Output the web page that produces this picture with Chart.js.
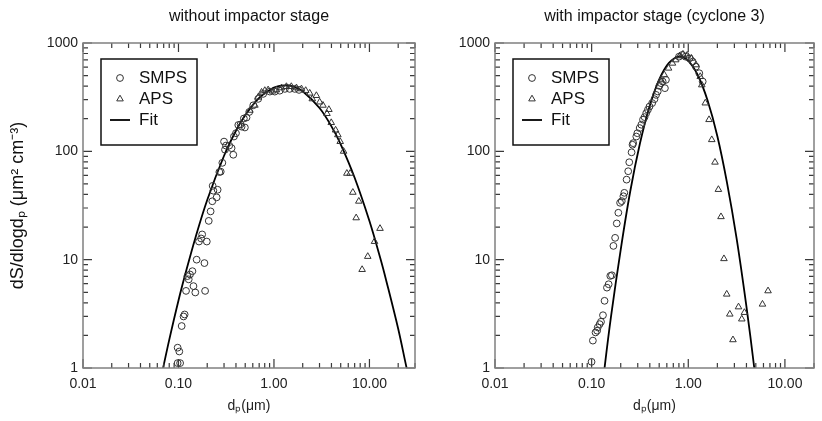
<!DOCTYPE html>
<html><head><meta charset="utf-8">
<script src="https://cdn.jsdelivr.net/npm/chart.js@4.4.1/dist/chart.umd.min.js"></script>
<style>
html,body{margin:0;padding:0;background:#fff;width:822px;height:421px;overflow:hidden}
canvas{position:absolute;top:0}
#c1{left:0}
#c2{left:430px}
</style></head><body>
<canvas id="c1" width="430" height="421"></canvas>
<canvas id="c2" width="392" height="421"></canvas>
<script>
const panelTitles = ['without impactor stage', 'with impactor stage (cyclone 3)'];
const yAxisTitle = 'dS/dlogdₚ (μm² cm⁻³)';
const xAxisTitle = 'dₚ(μm)';
const legendLabels = ['SMPS', 'APS', 'Fit'];
const xTickValues = [0.01, 0.1, 1, 10];
const xTickLabels = ['0.01', '0.10', '1.00', '10.00'];
const yTickValues = [1, 10, 100, 1000];
const yTickLabels = ['1', '10', '100', '1000'];

// [dp (µm), dS/dlogdp]
const leftSmps = [[0.098,1.11],[0.104,1.11],[0.098,1.54],[0.102,1.42],[0.108,2.44],[0.113,2.99],[0.116,3.12],[0.120,5.15],[0.128,6.58],[0.132,7.3],[0.124,7.05],[0.140,7.83],[0.1435,5.7],[0.150,4.98],[0.190,5.15],[0.155,10.0],[0.187,9.3],[0.164,14.7],[0.1725,15.7],[0.177,17.1],[0.198,14.7],[0.2075,22.8],[0.217,27.9],[0.226,34.6],[0.251,37.6],[0.232,43.3],[0.257,44.2],[0.228,48],[0.268,64.4],[0.277,64.9],[0.288,78.3],[0.307,103.5],[0.300,123],[0.314,113],[0.340,113],[0.360,107],[0.375,93],[0.381,137],[0.400,147],[0.423,175],[0.447,177],[0.458,169],[0.496,166],[0.484,201],[0.516,205],[0.551,231],[0.607,266],[0.684,305],[0.771,339],[0.906,356],[1.02,356],[1.15,363],[1.30,377],[1.46,377],[1.65,377],[1.83,369]];
const leftAps = [[0.560,239],[0.631,266],[0.684,316],[0.741,351],[0.802,364],[0.869,369],[0.964,359],[1.06,369],[1.20,385],[1.35,396],[1.52,396],[1.72,385],[1.94,377],[2.15,364],[2.37,344],[2.52,305],[2.78,327],[3.01,285],[3.26,266],[3.76,243],[3.59,223],[3.98,184],[4.42,157],[4.67,142],[4.94,123],[5.36,100],[5.80,62.6],[6.28,62.6],[6.70,41.8],[7.74,34.6],[7.26,24.3],[12.9,19.4],[11.3,14.7],[9.6,10.7],[8.38,8.1]];
const leftFit = [[0.065,0.79],[0.069,1.0],[0.08,1.82],[0.1,4.2],[0.12,7.8],[0.15,15.8],[0.2,35.5],[0.3,91],[0.4,155],[0.5,215],[0.7,311],[1.0,388],[1.3,407],[1.6,396],[2,359],[3,251],[4,170],[5,116],[7,57],[10,22.7],[13,10.3],[15,6.4],[20,2.3],[24.5,1.0],[27,0.69]];

const rightSmps = [[0.0998,1.14],[0.103,1.79],[0.1097,2.13],[0.114,2.21],[0.1157,2.37],[0.121,2.54],[0.125,2.67],[0.131,3.07],[0.136,4.17],[0.144,5.52],[0.150,5.93],[0.156,7.08],[0.162,7.18],[0.168,13.4],[0.175,15.9],[0.182,21.6],[0.189,27.1],[0.197,33.5],[0.205,34.7],[0.213,38.5],[0.218,41.4],[0.230,54.8],[0.239,65.5],[0.245,79.3],[0.259,97.9],[0.265,115],[0.269,119],[0.290,137],[0.297,147],[0.314,164],[0.327,176],[0.340,196],[0.353,207],[0.367,225],[0.382,242],[0.397,259],[0.423,279],[0.447,303],[0.464,332],[0.483,357],[0.502,402],[0.522,426],[0.543,441],[0.573,383],[0.587,457],[0.802,748],[0.867,776],[0.937,748],[1.03,722],[1.11,673],[1.20,605],[1.30,526],[1.41,441]];
const rightAps = [[0.522,457],[0.565,508],[0.625,585],[0.686,650],[0.741,698],[0.814,760],[0.881,788],[0.975,771],[1.08,722],[1.20,628],[1.33,490],[1.38,410],[1.50,279],[1.64,196],[1.75,128],[1.89,79.3],[2.05,44.4],[2.18,24.9],[2.34,10.2],[2.50,4.80],[2.69,3.14],[3.31,3.66],[2.90,1.82],[3.58,2.83],[3.81,3.25],[5.86,3.88],[6.69,5.15]];
const rightFit = [[0.126,0.54],[0.136,1.0],[0.158,2.9],[0.2,12.4],[0.251,42.8],[0.316,118],[0.398,261],[0.501,462],[0.631,657],[0.811,750],[1.0,684],[1.26,501],[1.585,294],[2.0,138],[2.51,52],[3.16,15.8],[3.98,3.8],[4.82,1.0],[5.62,0.3]];

const xRanges = [[0.01, 30], [0.01, 20]];
const yRange = [1, 1000];

Chart.defaults.font.family = '"Liberation Sans", Arial, sans-serif';
Chart.defaults.color = '#1a1a1a';

const toPts = arr => arr.map(p => ({x: p[0], y: p[1]}));
const near = (a, b) => Math.abs(a - b) <= 1e-9 * Math.max(Math.abs(a), Math.abs(b));

function buildLogTicks(scale) {
  const lo = scale.min, hi = scale.max, ticks = [];
  for (let e = Math.floor(Math.log10(lo)) ; e <= Math.ceil(Math.log10(hi)); e++) {
    for (let m = 1; m <= 9; m++) {
      const v = m * Math.pow(10, e);
      if (v >= lo * 0.9999 && v <= hi * 1.0001) ticks.push({value: v, major: m === 1});
    }
  }
  scale.ticks = ticks;
}
function labelFor(vals, labs) {
  return v => { const i = vals.findIndex(t => near(t, v)); return i >= 0 ? labs[i] : ''; };
}

const decor = {
  id: 'decor',
  afterDatasetsDraw(chart) {
    const {ctx, chartArea: a, scales: {x, y}} = chart;
    ctx.save();
    // inward ticks on all four sides
    ctx.strokeStyle = '#3a3a3a'; ctx.lineWidth = 1.2; ctx.beginPath();
    x.ticks.forEach(t => {
      const p = x.getPixelForValue(t.value);
      const L = t.major ? 9 : 5;
      ctx.moveTo(p, a.bottom); ctx.lineTo(p, a.bottom - L);
      ctx.moveTo(p, a.top); ctx.lineTo(p, a.top + L);
    });
    y.ticks.forEach(t => {
      const p = y.getPixelForValue(t.value);
      const L = t.major ? 9 : 5;
      ctx.moveTo(a.left, p); ctx.lineTo(a.left + L, p);
      ctx.moveTo(a.right, p); ctx.lineTo(a.right - L, p);
    });
    ctx.stroke();
    // frame
    ctx.strokeStyle = '#808080'; ctx.lineWidth = 1.5;
    ctx.strokeRect(a.left, a.top, a.right - a.left, a.bottom - a.top);
    // legend box
    const bx = a.left + 18, by = a.top + 16;
    ctx.fillStyle = '#fff';
    ctx.fillRect(bx, by, 96, 86);
    ctx.strokeStyle = '#111'; ctx.lineWidth = 1.5;
    ctx.strokeRect(bx, by, 96, 86);
    const ds = chart.data.datasets;
    const rows = [a.top + 35, a.top + 56, a.top + 77];
    const sx = a.left + 37, tx = a.left + 56;
    ds.forEach((d, i) => {
      if (d.type === 'line') {
        ctx.strokeStyle = d.borderColor; ctx.lineWidth = d.borderWidth;
        ctx.beginPath(); ctx.moveTo(sx - 10, rows[i]); ctx.lineTo(sx + 10, rows[i]); ctx.stroke();
      } else {
        ctx.fillStyle = 'rgba(255,255,255,0)';
        ctx.strokeStyle = d.borderColor; ctx.lineWidth = d.borderWidth;
        Chart.helpers.drawPoint(ctx, {pointStyle: d.pointStyle, radius: d.pointRadius, borderWidth: d.borderWidth}, sx, rows[i]);
      }
      ctx.font = '17px "Liberation Sans", Arial, sans-serif';
      ctx.textBaseline = 'middle'; ctx.textAlign = 'left';
      ctx.fillStyle = '#111';
      ctx.fillText(d.label, tx, rows[i]);
    });
    ctx.restore();
  }
};

function makeChart(id, idx, smps, aps, fit, yWidth, padRight, showYTitle) {
  const ctx = document.getElementById(id);
  return new Chart(ctx, {
    type: 'scatter',
    data: {
      datasets: [
        {label: legendLabels[0], data: toPts(smps), pointStyle: 'circle', pointRadius: 3.4, borderWidth: 1,
         borderColor: '#333', backgroundColor: 'rgba(255,255,255,0)'},
        {label: legendLabels[1], data: toPts(aps), pointStyle: 'triangle', pointRadius: 3.8, borderWidth: 1,
         borderColor: '#333', backgroundColor: 'rgba(255,255,255,0)'},
        {label: legendLabels[2], type: 'line', data: toPts(fit), borderColor: '#000', borderWidth: 1.8,
         pointRadius: 0, tension: 0.35, fill: false}
      ]
    },
    options: {
      responsive: false, animation: false, devicePixelRatio: 1,
      layout: {padding: {left: 0, right: padRight, top: 0, bottom: 0}},
      plugins: {
        legend: {display: false}, tooltip: {enabled: false},
        title: {display: true, text: panelTitles[idx], fullSize: false,
                font: {size: 16, weight: 'normal'}, color: '#111', padding: {top: 7, bottom: 16.8}}
      },
      scales: {
        x: {
          type: 'logarithmic', min: xRanges[idx][0], max: xRanges[idx][1],
          afterBuildTicks: buildLogTicks,
          afterFit: s => { s.height = 53; },
          grid: {display: false, drawTicks: false}, border: {display: false},
          ticks: {autoSkip: false, maxRotation: 0, minRotation: 0, padding: 8,
                  font: {size: 14}, color: '#222', callback: labelFor(xTickValues, xTickLabels)},
          title: {display: true, text: xAxisTitle, font: {size: 14}, color: '#222', padding: {top: 0, bottom: 6}}
        },
        y: {
          type: 'logarithmic', min: yRange[0], max: yRange[1],
          afterBuildTicks: buildLogTicks,
          afterFit: s => { s.width = yWidth; },
          grid: {display: false, drawTicks: false}, border: {display: false},
          ticks: {autoSkip: false, padding: 5, font: {size: 14}, color: '#222',
                  callback: labelFor(yTickValues, yTickLabels)},
          title: {display: showYTitle, text: yAxisTitle, font: {size: 18}, color: '#111', padding: {top: 7, bottom: 0}}
        }
      }
    },
    plugins: [decor]
  });
}

makeChart('c1', 0, leftSmps, leftAps, leftFit, 83, 15, true);
makeChart('c2', 1, rightSmps, rightAps, rightFit, 65, 7, false);
</script>
</body></html>
